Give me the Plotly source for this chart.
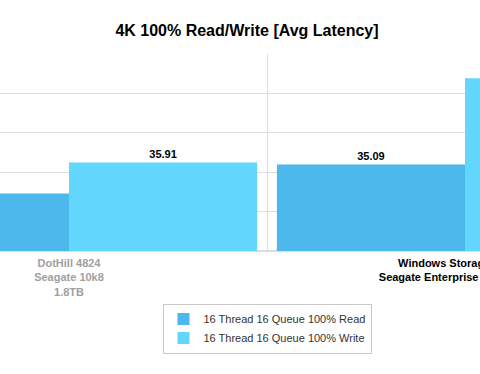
import plotly.graph_objects as go

categories = [
    "<span style='color:#a0a0a0'>DotHill 4824<br>Seagate 10k8<br>1.8TB</span>",
    "<span style='color:#000000'>Windows Storage Spaces<br>Seagate Enterprise Capacity 6TB</span>",
]
cat_ids = ["DotHill", "Windows"]
series_names = ["16 Thread 16 Queue 100% Read", "16 Thread 16 Queue 100% Write"]
read_values = [23.40, 35.09]
write_values = [35.91, 70.20]
colors = ["#4cb8ec", "#63d6fe"]

font_family = "Liberation Sans, Arial, Helvetica, sans-serif"

fig = go.Figure()
for name, vals, col in zip(series_names, [read_values, write_values], colors):
    fig.add_trace(go.Bar(
        x=cat_ids, y=vals, name=name,
        marker=dict(color=col, line=dict(width=0)),
        texttemplate="%{y:.2f}", textposition="outside",
        textfont=dict(family=font_family, size=11, color="#000000", weight="bold"),
        cliponaxis=True,
    ))

fig.update_layout(
    width=480, height=374,
    margin=dict(l=0, r=0, t=54, b=123, autoexpand=False),
    paper_bgcolor="white", plot_bgcolor="white",
    barmode="group", bargap=0.05, bargroupgap=0,
    title=dict(text="<b>4K 100% Read/Write [Avg Latency]</b>", x=247/480, xanchor="center",
               y=1 - 30/374, yanchor="middle",
               font=dict(family=font_family, size=16, color="#000000")),
    font=dict(family=font_family),
    showlegend=True,
    legend=dict(x=267/480, xanchor="center", y=-0.267, yanchor="top",
                bgcolor="white", bordercolor="#c8c8c8", borderwidth=1,
                font=dict(family=font_family, size=11, color="#333333"),
                tracegroupgap=0, itemwidth=30),
    xaxis=dict(type="category", range=[-69/396, -69/396 + 480/396], automargin=False,
               tickmode="array", tickvals=cat_ids, ticktext=categories,
               tickson="boundaries", showgrid=True, gridcolor="#dddddd", gridwidth=1,
               ticks="", showline=False, ticklabelstandoff=4,
               tickfont=dict(family=font_family, size=11, weight="bold")),
    yaxis=dict(range=[0, 80], dtick=16, showgrid=True, gridcolor="#dddddd", gridwidth=1,
               automargin=False,
               zeroline=True, zerolinecolor="#dddddd", showticklabels=False, ticks=""),
)

fig.write_html("out.html")
